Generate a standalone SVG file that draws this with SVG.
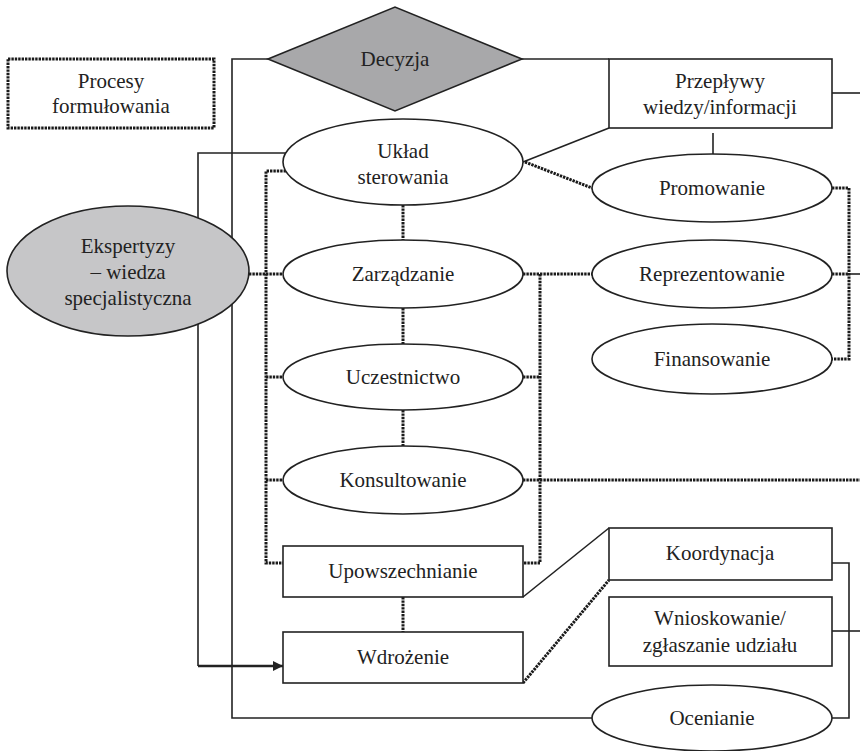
<svg xmlns="http://www.w3.org/2000/svg" width="860" height="751" viewBox="0 0 860 751" font-family="'Liberation Serif', 'Times New Roman', 'DejaVu Serif', serif">
<style>
.n{fill:#fff;stroke:#222;stroke-width:1.6}
.g1{fill:#c6c6c8;stroke:#222;stroke-width:1.6}
.g2{fill:#a8a8aa;stroke:#222;stroke-width:1.6}
.s{fill:none;stroke:#222;stroke-width:1.6}
.d{fill:none;stroke:#1a1a1a;stroke-width:3;stroke-dasharray:2.4 1}
.db{fill:#fff;stroke:#1a1a1a;stroke-width:3;stroke-dasharray:2.4 1}
text{font-family:'Liberation Serif','Times New Roman','DejaVu Serif',serif;font-size:21px;fill:#222;text-anchor:middle}
</style>
<defs>
<marker id="ah" viewBox="0 0 10 10" refX="10" refY="5" markerWidth="4" markerHeight="4" orient="auto" markerUnits="strokeWidth">
<path d="M0,0 L10,5 L0,10 Z" fill="#222"/>
</marker>
</defs>
<g id="connectors">
<polyline class="s" points="268,59 232,59 232,718 592,718"/>
<line class="s" x1="522" y1="59" x2="609" y2="59"/>
<line class="s" x1="832" y1="93" x2="860" y2="93"/>
<line class="s" x1="523" y1="162" x2="609" y2="128"/>
<line class="s" x1="713" y1="133" x2="713" y2="154"/>
<polyline class="s" points="286,153 198,153 198,666"/>
<line x1="198" y1="666" x2="283" y2="666" stroke="#222" stroke-width="2.6" marker-end="url(#ah)"/>
<polyline class="s" points="832,563 849,563 849,718 832,718"/>
<line class="s" x1="832" y1="631" x2="860" y2="631"/>
<line class="s" x1="523" y1="597" x2="609" y2="528"/>
<line class="s" x1="849" y1="274" x2="860" y2="274"/>
<line class="d" x1="525" y1="162" x2="592" y2="188"/>
<polyline class="d" points="832,188 849,188 849,359 832,359"/>
<line class="d" x1="832" y1="274" x2="849" y2="274"/>
<polyline class="d" points="286,171 266,171 266,563 283,563"/>
<line class="d" x1="249" y1="274" x2="283" y2="274"/>
<line class="d" x1="266" y1="377" x2="283" y2="377"/>
<line class="d" x1="266" y1="480" x2="283" y2="480"/>
<line class="d" x1="403" y1="205" x2="403" y2="240"/>
<line class="d" x1="403" y1="308" x2="403" y2="344"/>
<line class="d" x1="403" y1="410" x2="403" y2="446"/>
<line class="d" x1="403" y1="597" x2="403" y2="632"/>
<line class="d" x1="523" y1="274" x2="592" y2="274"/>
<polyline class="d" points="540,274 540,563 523,563"/>
<line class="d" x1="523" y1="377" x2="540" y2="377"/>
<line class="d" x1="523" y1="480" x2="860" y2="480"/>
<line class="d" x1="523" y1="683" x2="609" y2="580"/>
</g>
<g id="procesy">
<rect class="db" x="8" y="59" width="206" height="69"/>
<text x="111" y="88">Procesy</text>
<text x="111" y="113">formułowania</text>
</g>
<g id="decyzja">
<polygon class="g2" points="268,59 395,7 522,59 395,111"/>
<text x="395" y="66">Decyzja</text>
</g>
<g id="przeplywy">
<rect class="n" x="609" y="59" width="223" height="69"/>
<text x="720" y="88">Przepływy</text>
<text x="720" y="114">wiedzy/informacji</text>
</g>
<g id="uklad">
<ellipse class="n" cx="403" cy="162" rx="120" ry="43"/>
<text x="403" y="158">Układ</text>
<text x="403" y="184">sterowania</text>
</g>
<g id="ekspertyzy">
<ellipse class="g1" cx="128" cy="271" rx="121" ry="65"/>
<text x="128" y="253">Ekspertyzy</text>
<text x="128" y="279">– wiedza</text>
<text x="128" y="305">specjalistyczna</text>
</g>
<g id="promowanie">
<ellipse class="n" cx="712" cy="188" rx="120" ry="34"/>
<text x="712" y="195">Promowanie</text>
</g>
<g id="zarzadzanie">
<ellipse class="n" cx="403" cy="274" rx="120" ry="34"/>
<text x="403" y="281">Zarządzanie</text>
</g>
<g id="reprezentowanie">
<ellipse class="n" cx="712" cy="274" rx="120" ry="34"/>
<text x="712" y="281">Reprezentowanie</text>
</g>
<g id="finansowanie">
<ellipse class="n" cx="712" cy="359" rx="120" ry="35"/>
<text x="712" y="366">Finansowanie</text>
</g>
<g id="uczestnictwo">
<ellipse class="n" cx="403" cy="377" rx="120" ry="33"/>
<text x="403" y="384">Uczestnictwo</text>
</g>
<g id="konsultowanie">
<ellipse class="n" cx="403" cy="480" rx="120" ry="34"/>
<text x="403" y="487">Konsultowanie</text>
</g>
<g id="upowszechnianie">
<rect class="n" x="283" y="546" width="240" height="51"/>
<text x="403" y="578">Upowszechnianie</text>
</g>
<g id="wdrozenie">
<rect class="n" x="283" y="632" width="240" height="51"/>
<text x="403" y="664">Wdrożenie</text>
</g>
<g id="koordynacja">
<rect class="n" x="609" y="528" width="223" height="52"/>
<text x="720" y="560">Koordynacja</text>
</g>
<g id="wnioskowanie">
<rect class="n" x="609" y="597" width="223" height="69"/>
<text x="720" y="625">Wnioskowanie/</text>
<text x="720" y="652">zgłaszanie udziału</text>
</g>
<g id="ocenianie">
<ellipse class="n" cx="712" cy="718" rx="120" ry="33"/>
<text x="712" y="725">Ocenianie</text>
</g>
</svg>
